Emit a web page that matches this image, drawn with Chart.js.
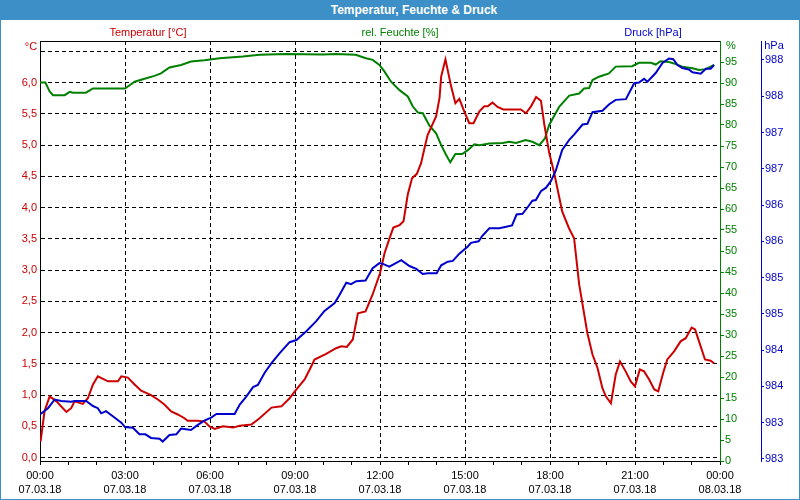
<!DOCTYPE html>
<html>
<head>
<meta charset="utf-8">
<script src="https://cdn.jsdelivr.net/npm/chart.js@4.4.0/dist/chart.umd.min.js"></script>
<style>
  html, body { margin:0; padding:0; background:#ffffff; }
  #wrap { position:relative; width:800px; height:500px; overflow:hidden; background:#ffffff; font-family:"Liberation Sans", Arial, sans-serif; font-size:11px; }
  #c { position:absolute; left:0; top:0; }
  #titlebar { position:absolute; left:0; top:0; width:800px; height:20px; background:#3d8fc8; }
  .lbl { position:absolute; transform:translate(-50%,-50%); white-space:nowrap; line-height:1; }
  #title { color:#ffffff; font-weight:bold; font-size:12px; }
  #bl { position:absolute; left:0; top:20px; width:1px; height:480px; background:#3d8fc8; }
  #br { position:absolute; right:0; top:20px; width:1px; height:480px; background:#3d8fc8; }
  #bb { position:absolute; left:0; bottom:0; width:800px; height:1px; background:#3d8fc8; }
</style>
</head>
<body>
<div id="wrap">
  <canvas id="c" width="800" height="500"></canvas>
  <div id="titlebar"></div>
  <div id="bl"></div><div id="br"></div><div id="bb"></div>
  <div class="lbl" id="title" style="left:414px;top:10px;">Temperatur, Feuchte &amp; Druck</div>
  <div class="lbl" style="left:148px;top:32px;color:#cc0000;">Temperatur [°C]</div>
  <div class="lbl" style="left:400px;top:32px;color:#008000;">rel. Feuchte [%]</div>
  <div class="lbl" style="left:653px;top:32px;color:#0000cc;">Druck [hPa]</div>
  <div class="lbl" style="left:31px;top:46px;color:#cc0000;">°C</div>
  <div class="lbl" style="left:731px;top:45px;color:#008000;">%</div>
  <div class="lbl" style="left:774px;top:45px;color:#0000cc;">hPa</div>
</div>
<script>
// ---- data (hours since 07.03.18 00:00) ----
const tempHours = [0.02,0.16,0.34,0.58,0.93,1.10,1.22,1.51,1.69,1.87,2.04,2.40,2.75,2.87,3.10,3.34,3.57,3.92,4.16,4.39,4.63,4.86,5.10,5.21,5.56,5.80,5.98,6.17,6.46,6.81,7.05,7.46,7.75,8.17,8.52,8.81,9.05,9.34,9.52,9.69,10.10,10.45,10.63,10.83,11.04,11.22,11.49,11.74,12.00,12.16,12.33,12.47,12.69,12.83,12.98,13.13,13.30,13.45,13.57,13.68,13.98,14.10,14.16,14.31,14.51,14.66,14.80,14.98,15.15,15.30,15.51,15.68,15.80,15.97,16.15,16.35,16.97,17.15,17.33,17.51,17.68,17.80,17.97,18.15,18.43,18.67,18.85,19.03,19.32,19.50,19.68,19.85,19.97,20.15,20.32,20.47,20.67,20.85,21.00,21.17,21.32,21.50,21.68,21.82,21.99,22.14,22.38,22.61,22.79,23.00,23.12,23.26,23.47,23.67,23.79];
const tempValues = [0.26,0.74,0.98,0.90,0.73,0.79,0.90,0.86,0.95,1.17,1.30,1.22,1.22,1.30,1.28,1.17,1.07,1.00,0.93,0.85,0.74,0.69,0.63,0.59,0.59,0.58,0.50,0.46,0.50,0.48,0.51,0.53,0.63,0.80,0.82,0.95,1.09,1.25,1.41,1.57,1.66,1.75,1.78,1.77,1.89,2.31,2.34,2.61,2.95,3.27,3.50,3.68,3.72,3.78,4.21,4.47,4.54,4.71,4.95,5.16,5.46,5.75,6.10,6.37,5.94,5.67,5.74,5.53,5.35,5.35,5.54,5.62,5.62,5.68,5.61,5.57,5.57,5.51,5.62,5.77,5.71,5.33,4.88,4.55,3.94,3.67,3.51,2.77,1.99,1.65,1.43,1.11,0.98,0.87,1.33,1.54,1.38,1.22,1.14,1.41,1.38,1.25,1.09,1.06,1.35,1.57,1.70,1.86,1.91,2.08,2.05,1.86,1.57,1.55,1.51];

const humHours = [0.00,0.19,0.34,0.46,0.87,1.05,1.16,1.62,1.87,3.00,3.34,3.69,4.04,4.27,4.57,4.98,5.33,5.80,6.34,7.16,7.75,8.69,9.98,10.45,11.14,11.50,11.74,11.98,12.16,12.39,12.69,12.98,13.16,13.33,13.51,13.74,13.98,14.16,14.33,14.48,14.66,14.90,15.10,15.33,15.51,15.86,16.33,16.56,16.80,17.14,17.38,17.62,17.82,17.97,18.33,18.68,19.03,19.20,19.38,19.50,19.73,20.08,20.32,20.90,21.14,21.56,21.73,21.90,22.20,22.44,22.67,23.03,23.26,23.50,23.79];
const humValues = [90.1,90.1,88.0,87.1,87.1,87.9,87.7,87.7,88.7,88.7,90.3,91.0,91.7,92.3,93.7,94.3,95.1,95.4,95.9,96.3,96.7,96.9,96.8,96.9,96.7,95.9,95.5,94.3,92.7,90.3,88.3,86.8,84.4,83.0,82.8,79.9,78.0,75.2,72.9,71.1,73.1,73.1,74.0,75.4,75.2,75.6,75.7,76.0,75.7,76.4,76.0,75.2,76.8,80.0,84.4,87.0,87.5,88.7,88.8,90.7,91.5,92.3,93.9,94.0,94.8,94.8,94.4,95.2,95.0,94.5,93.9,93.5,93.1,93.3,94.3];

const presHours = [0.02,0.28,0.52,0.75,1.10,1.22,1.63,1.87,2.04,2.16,2.33,2.57,2.87,3.00,3.28,3.51,3.72,3.92,4.22,4.33,4.57,4.81,4.98,5.15,5.33,5.57,5.80,6.04,6.23,6.87,7.05,7.28,7.52,7.69,7.93,8.17,8.46,8.81,9.05,9.22,9.40,9.75,10.04,10.40,10.57,10.81,10.98,11.16,11.49,11.74,11.98,12.10,12.33,12.51,12.75,13.04,13.28,13.51,13.69,14.00,14.16,14.39,14.57,14.80,15.10,15.21,15.48,15.62,15.86,16.21,16.45,16.66,16.82,17.03,17.21,17.38,17.50,17.68,17.86,18.03,18.20,18.43,18.68,18.85,19.15,19.32,19.50,19.85,20.09,20.32,20.68,20.97,21.14,21.32,21.44,21.73,21.97,22.20,22.35,22.50,22.67,22.90,23.03,23.32,23.50,23.67,23.79];
const presValues = [983.22,983.30,983.42,983.40,983.39,983.40,983.40,983.33,983.30,983.23,983.26,983.19,983.10,983.04,983.03,982.94,982.94,982.89,982.88,982.84,982.93,982.94,983.02,983.01,983.00,983.07,983.13,983.17,983.22,983.22,983.35,983.46,983.59,983.62,983.79,983.92,984.06,984.21,984.24,984.30,984.36,984.50,984.64,984.75,984.86,985.03,985.01,985.05,985.06,985.23,985.30,985.29,985.25,985.29,985.34,985.26,985.22,985.15,985.16,985.16,985.27,985.32,985.33,985.43,985.53,985.58,985.60,985.68,985.78,985.78,985.80,985.82,985.97,985.98,986.07,986.16,986.17,986.29,986.34,986.43,986.57,986.86,987.00,987.07,987.21,987.22,987.38,987.40,987.49,987.55,987.56,987.78,987.79,987.84,987.80,987.92,988.06,988.12,988.11,988.03,987.99,987.97,987.93,987.91,987.98,987.98,988.03];

// ---- tick labels ----
const timeLabels = ['00:00','03:00','06:00','09:00','12:00','15:00','18:00','21:00','00:00'];
const dateLabels = ['07.03.18','07.03.18','07.03.18','07.03.18','07.03.18','07.03.18','07.03.18','07.03.18','08.03.18'];
const tempTicks = [0,0.5,1,1.5,2,2.5,3,3.5,4,4.5,5,5.5,6,6.5];
const tempTickLabels = ['0,0','0,5','1,0','1,5','2,0','2,5','3,0','3,5','4,0','4,5','5,0','5,5','6,0',''];
const humTicks = [0,5,10,15,20,25,30,35,40,45,50,55,60,65,70,75,80,85,90,95];
const presTicks = [982.6,983.1,983.6,984.1,984.6,985.1,985.6,986.1,986.6,987.1,987.6,988.1];
const presTickLabels = ['983','983','984','984','985','985','986','986','987','987','988','988'];

const RED = '#cc0000', GREEN = '#008000', BLUE = '#0000cc';
const zip = (xs, ys) => xs.map((x, i) => ({x: x, y: ys[i]}));

Chart.defaults.font.family = '"Liberation Sans", Arial, sans-serif';
Chart.defaults.font.size = 11;

new Chart(document.getElementById('c'), {
  type: 'line',
  data: {
    datasets: [
      {label:'Temperatur [°C]', data: zip(tempHours, tempValues), yAxisID:'yT', borderColor:RED, borderWidth:2, pointRadius:0, tension:0, order:2},
      {label:'rel. Feuchte [%]', data: zip(humHours, humValues), yAxisID:'yH', borderColor:GREEN, borderWidth:2, pointRadius:0, tension:0, order:3},
      {label:'Druck [hPa]', data: zip(presHours, presValues), yAxisID:'yP', borderColor:BLUE, borderWidth:2, pointRadius:0, tension:0, order:1}
    ]
  },
  options: {
    responsive:false, animation:false, events:[],
    layout:{padding:{top:41, left:0, right:0, bottom:0}},
    plugins:{legend:{display:false}, tooltip:{enabled:false}, title:{display:false}},
    scales:{
      x:{
        type:'linear', position:'bottom', min:0, max:24,
        afterBuildTicks:(s)=>{ const t=[]; for (let h=0; h<=24; h++) t.push({value:h}); s.ticks=t; },
        afterFit:(s)=>{ s.height = 39; },
        ticks:{autoSkip:false, maxRotation:0, minRotation:0, color:'#000', padding:3,
          font:{size:11, lineHeight:1.36},
          callback:(v)=> (v % 3 === 0) ? [timeLabels[v/3], dateLabels[v/3]] : ''},
        grid:{color:(c)=> (c.tick && c.tick.value % 3 === 0 && c.tick.value > 0 && c.tick.value < 24) ? '#000' : 'rgba(0,0,0,0)',
          tickColor:'#000', tickLength:4, lineWidth:1, drawTicks:true},
        border:{display:true, color:'#000', width:1, dash:[4,3]}
      },
      xTop:{
        type:'linear', position:'top', min:0, max:24,
        afterFit:(s)=>{ s.height = 0; },
        ticks:{display:false}, grid:{display:false, drawTicks:false},
        border:{display:true, color:'#000', width:1}
      },
      yT:{
        type:'linear', position:'left', min:-0.0544, max:6.6656,
        afterBuildTicks:(s)=>{ s.ticks = tempTicks.map(v=>({value:v})); },
        afterFit:(s)=>{ s.width = 40; },
        ticks:{color:RED, padding:3, callback:(v)=>{ const i = tempTicks.indexOf(v); return i>=0 ? tempTickLabels[i] : ''; }},
        grid:{color:'#000', lineWidth:1, drawTicks:false, tickLength:0},
        border:{display:true, color:'#000', width:1, dash:[4,3]}
      },
      yH:{
        type:'linear', position:'right', min:0, max:100,
        afterBuildTicks:(s)=>{ s.ticks = humTicks.map(v=>({value:v})); },
        afterFit:(s)=>{ s.width = 41; },
        ticks:{color:GREEN, padding:1, callback:(v)=> String(v)},
        grid:{drawOnChartArea:false, drawTicks:true, tickLength:4, tickColor:GREEN, color:GREEN},
        border:{display:true, color:GREEN, width:1}
      },
      yP:{
        type:'linear', position:'right', min:982.5724, max:988.3615,
        afterBuildTicks:(s)=>{ s.ticks = presTicks.map(v=>({value:v})); },
        afterFit:(s)=>{ s.width = 39; },
        ticks:{color:BLUE, padding:1, callback:(v)=>{ const i = presTicks.findIndex(p=>Math.abs(p-v)<1e-6); return i>=0 ? presTickLabels[i] : ''; }},
        grid:{drawOnChartArea:false, drawTicks:true, tickLength:3, tickColor:BLUE, color:BLUE},
        border:{display:true, color:BLUE, width:1}
      }
    }
  }
});
</script>
</body>
</html>
